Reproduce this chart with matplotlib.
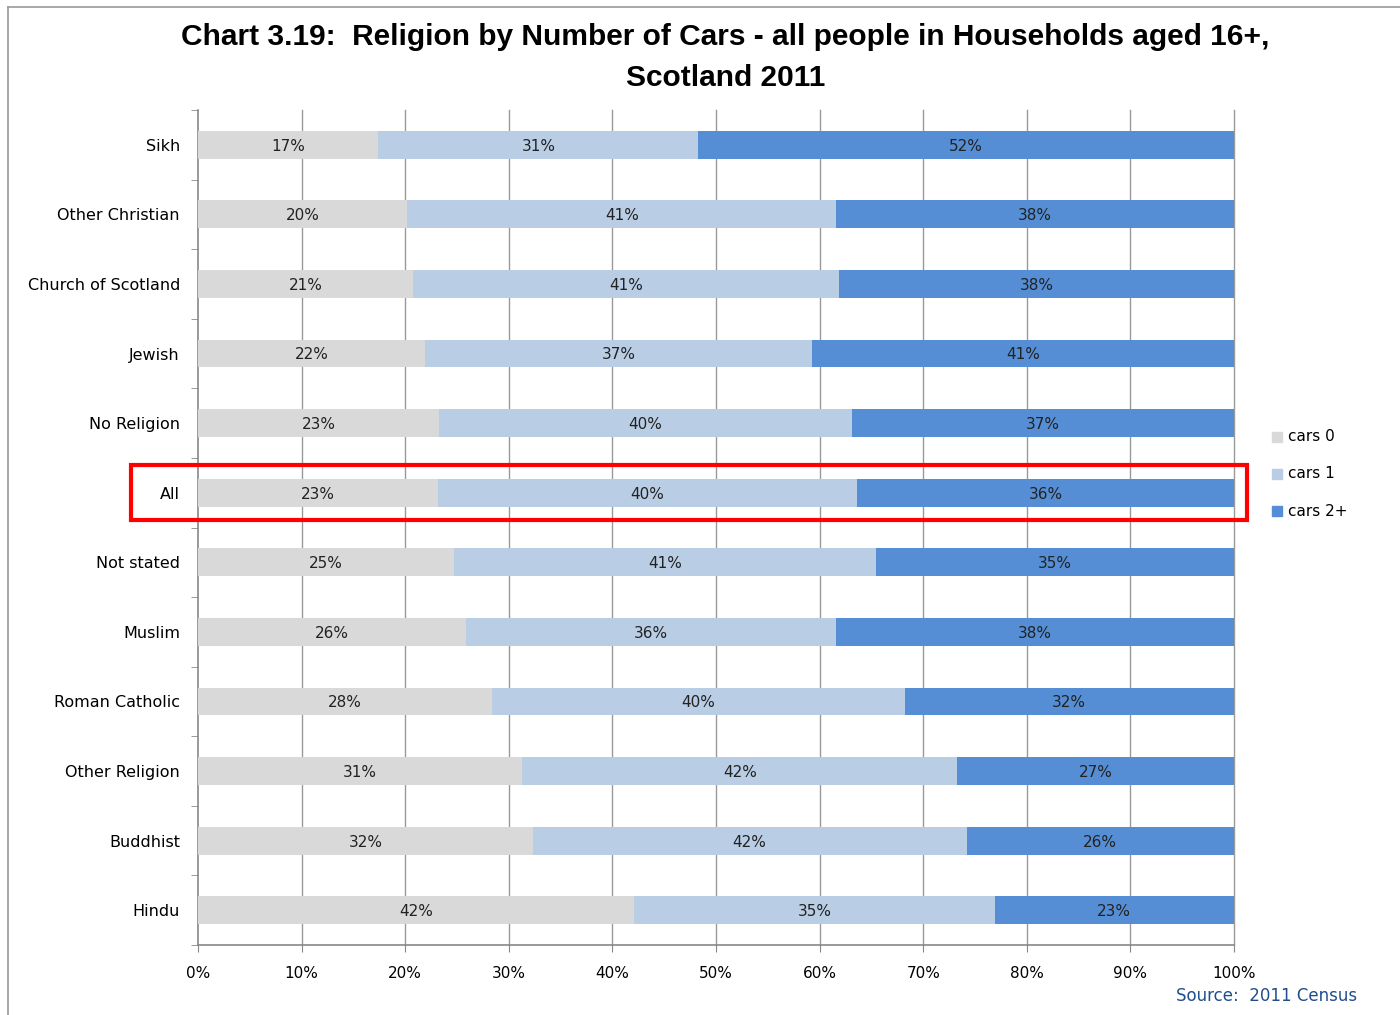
import matplotlib
matplotlib.use('Agg')
import matplotlib.pyplot as plt
import numpy as np
from matplotlib.patches import Rectangle
from matplotlib.lines import Line2D

# data (top to bottom as in the chart)
religions = ['Sikh', 'Other Christian', 'Church of Scotland', 'Jewish', 'No Religion', 'All',
             'Not stated', 'Muslim', 'Roman Catholic', 'Other Religion', 'Buddhist', 'Hindu']
cars0 = [17.4, 20.2, 20.8, 21.9, 23.3, 23.2, 24.7, 25.9, 28.4, 31.3, 32.3, 42.1]
cars1 = [30.9, 41.4, 41.1, 37.4, 39.8, 40.4, 40.7, 35.7, 39.8, 42.0, 41.9, 34.8]
cars2 = [51.7, 38.4, 38.1, 40.7, 36.9, 36.4, 34.6, 38.4, 31.8, 26.7, 25.8, 23.1]
series_names = ['cars 0', 'cars 1', 'cars 2+']
colors = ['#d9d9d9', '#b9cde5', '#558ed5']
xticks = np.arange(0, 101, 10)

fig = plt.figure(figsize=(14, 10.15), dpi=100)
ax = fig.add_axes([198/1400, 1-945/1015, (1234-198)/1400, (945-110)/1015])

y = np.arange(len(religions))
left = np.zeros(len(religions))
for vals, col, name in zip([cars0, cars1, cars2], colors, series_names):
    vals = np.array(vals)
    ax.barh(y, vals, left=left, height=0.4, color=col, label=name, zorder=3)
    for yi, l, v in zip(y, left, vals):
        ax.text(l + v/2, yi + 0.02, '%.0f%%' % v, ha='center', va='center', fontsize=11,
                color='#222222', zorder=4)
    left = left + vals

ax.set_xlim(0, 100)
ax.set_ylim(len(religions) - 0.5, -0.5)
ax.set_xticks(xticks)
ax.set_xticklabels(['%d%%' % t for t in xticks], fontsize=11)
ax.set_yticks(y)
ax.set_yticklabels(religions, fontsize=11.5)
ax.set_yticks(np.arange(-0.5, len(religions) + 0.5, 1), minor=True)
ax.tick_params(axis='y', which='major', length=0, pad=13)
ax.tick_params(axis='y', which='minor', length=5, color='#888888')
ax.tick_params(axis='x', length=5, color='#888888', pad=10)
for t in xticks[1:]:
    ax.axvline(t, color='#999999', linewidth=1, zorder=0, clip_on=False)
for s in ['top', 'right']:
    ax.spines[s].set_visible(False)
for s in ['left', 'bottom']:
    ax.spines[s].set_color('#888888')
    ax.spines[s].set_linewidth(1.2)

# title
fig.text(0.518, 1-37/1015, 'Chart 3.19:  Religion by Number of Cars - all people in Households aged 16+,',
         ha='center', va='center', fontsize=21.5, fontweight='bold', family='Liberation Sans')
fig.text(0.518, 1-78/1015, 'Scotland 2011', ha='center', va='center', fontsize=21.5,
         fontweight='bold', family='Liberation Sans')

# legend
leg_y = [437, 474, 511]
for yy, col, name in zip(leg_y, colors, series_names):
    fig.patches.append(Rectangle((1272/1400, 1-(yy+5)/1015), 10/1400, 10/1015,
                                 transform=fig.transFigure, color=col))
    fig.text(1288/1400, 1-yy/1015, name, ha='left', va='center', fontsize=11)

# highlight box around "All"
fig.patches.append(Rectangle((131/1400, 1-520/1015), (1247-131)/1400, (520-465)/1015,
                             transform=fig.transFigure, fill=False, edgecolor='#ff0000',
                             linewidth=3, zorder=10))

# source
fig.text(1357/1400, 1-996/1015, 'Source:  2011 Census', ha='right', va='center',
         fontsize=12, color='#1f4e8c')

# outer frame lines
fig.lines.append(Line2D([8/1400, 8/1400], [0, 1-7/1015], transform=fig.transFigure,
                        color='#999999', linewidth=1.2))
fig.lines.append(Line2D([8/1400, 1], [1-7/1015, 1-7/1015], transform=fig.transFigure,
                        color='#999999', linewidth=1.2))

fig.savefig('out.png', dpi=100)
